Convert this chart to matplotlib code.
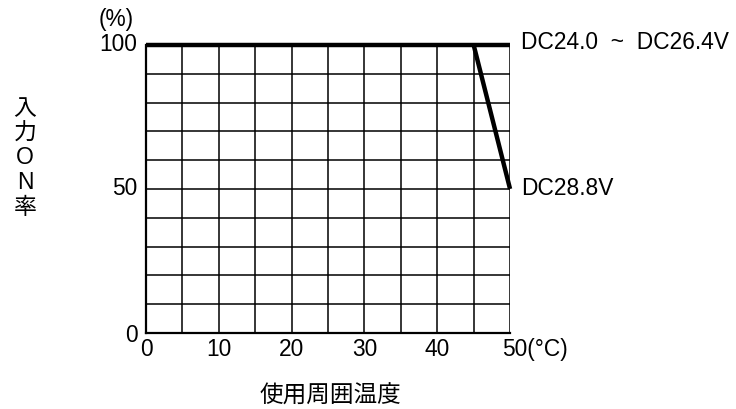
import matplotlib
matplotlib.use("Agg")
import matplotlib.pyplot as plt

plt.rcParams['font.family'] = ['Liberation Sans', 'Noto Sans CJK JP', 'DejaVu Sans']

# data
temp_a = [0, 50]
rate_a = [100, 100]
temp_b = [45, 50]
rate_b = [100, 50]
label_a = "DC24.0  ~  DC26.4V"
label_b = "DC28.8V"
x_ticks = [0, 10, 20, 30, 40, 50]
x_tick_labels = ["0", "10", "20", "30", "40", "50(°C)"]
y_ticks = [0, 50, 100]
y_tick_labels = ["0", "50", "100"]
x_grid = list(range(0, 51, 5))
y_grid = list(range(0, 101, 10))
xlabel = "使用周囲温度"
ylabel = "入\n力\nO\nN\n率"
yunit = "(%)"

fs = 16.4
fig = plt.figure(figsize=(7.36, 4.09), dpi=100)
ax = fig.add_axes([0.1984, 0.186, 0.4946, 0.704])
ax.set_xlim(0, 50)
ax.set_ylim(0, 100)

for x in x_grid:
    ax.axvline(x, color='black', lw=1.1, zorder=1)
for y in y_grid:
    ax.axhline(y, color='black', lw=1.1, zorder=1)

ax.plot(temp_a, rate_a, color='black', lw=3.2, solid_capstyle='butt', zorder=3, clip_on=False)
ax.plot(temp_b, rate_b, color='black', lw=3.2, solid_capstyle='butt', zorder=3, clip_on=False)

for s in ['top', 'right']:
    ax.spines[s].set_visible(False)
ax.spines['left'].set_linewidth(1.6)
ax.spines['bottom'].set_linewidth(1.6)

ax.set_xticks(x_ticks)
ax.set_xticklabels([])
ax.set_yticks(y_ticks)
ax.set_yticklabels([])
ax.tick_params(length=0)

# x tick labels
for x, t in zip(x_ticks, x_tick_labels):
    if x == 50:
        ax.text(x - 1.1, -5.6, t, ha='left', va='center', fontsize=fs)
    else:
        ax.text(x, -5.6, t, ha='center', va='center', fontsize=fs)

# y tick labels
for y, t in zip(y_ticks, y_tick_labels):
    ax.text(-1.2, y - (1 if y == 0 else 0), t, ha='right', va='center', fontsize=fs)
ax.text(-4.1, 108.7, yunit, ha='center', va='center', fontsize=fs)

# series labels
ax.text(51.5, 101, label_a, ha='left', va='center', fontsize=fs)
ax.text(51.5, 50, label_b, ha='left', va='center', fontsize=fs)

fig.text(330 / 736, 1 - 397 / 409, xlabel, ha='center', va='center', fontsize=17)
fig.text(25 / 736, 1 - 158 / 409, ylabel, ha='center', va='center', fontsize=16.5, linespacing=1.1)

fig.savefig("out.png", dpi=100)
